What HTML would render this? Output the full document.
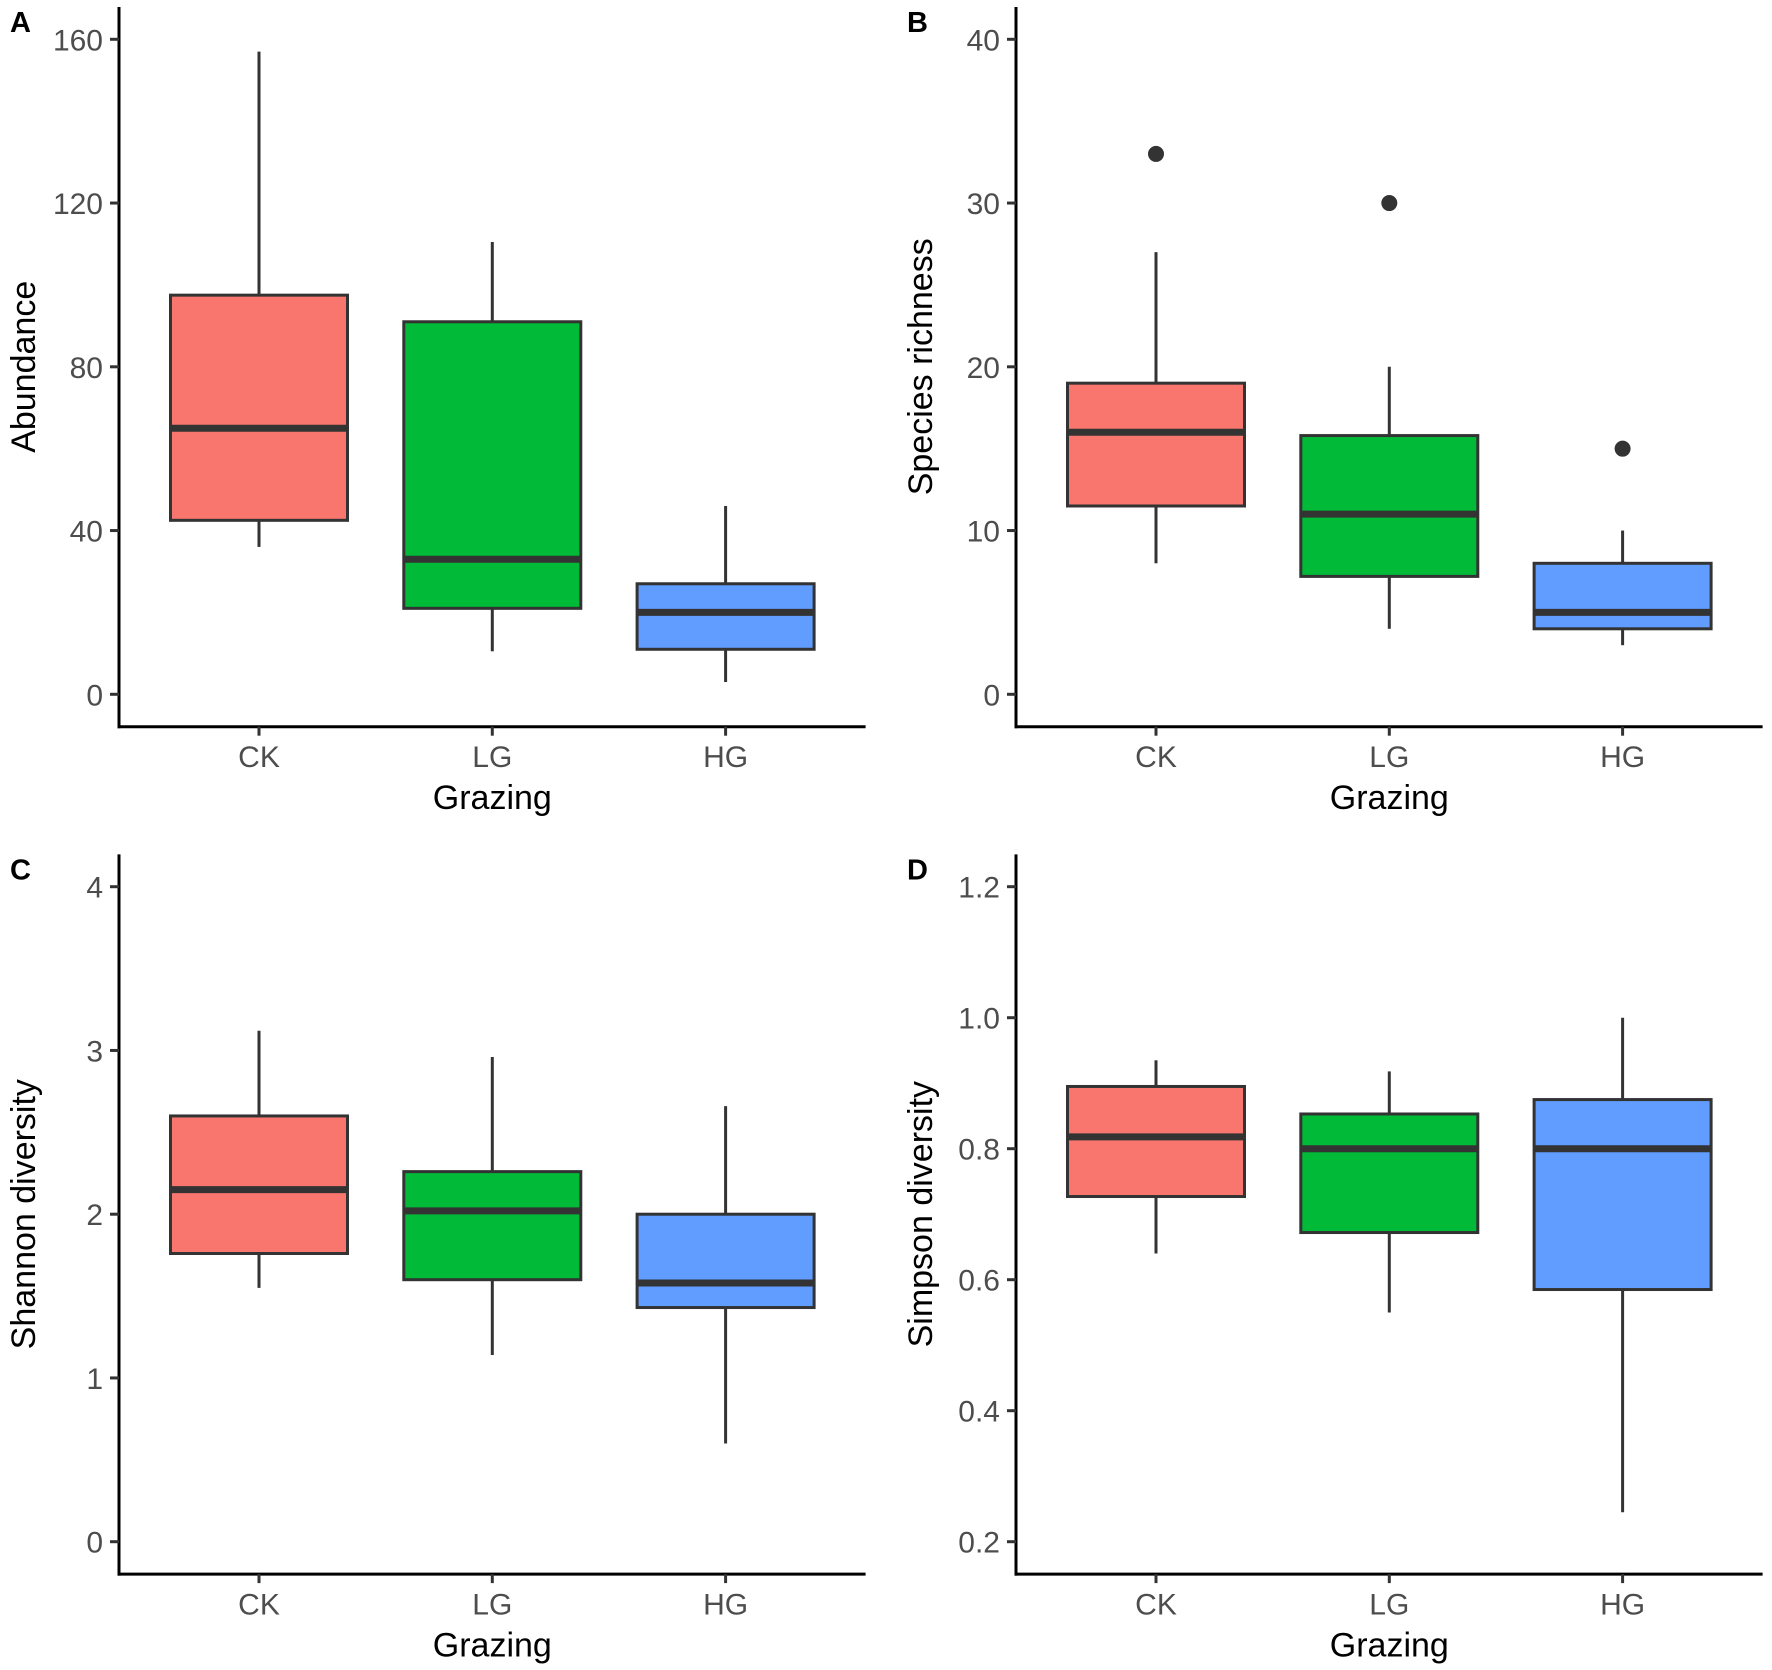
<!DOCTYPE html>
<html><head><meta charset="utf-8"><style>
html,body{margin:0;padding:0;background:#fff;}
svg{display:block;font-family:"Liberation Sans",Arial,sans-serif;}
</style></head>
<body>
<svg id="chart" width="1772" height="1670" viewBox="0 0 1772 1670" xmlns="http://www.w3.org/2000/svg"></svg>
<script>
const categories = ["CK","LG","HG"];
const fills = ["#F8766D","#00BA38","#619CFF"];
// Panel A: Abundance
const aLow = [36, 10.5, 3];
const aQ1 = [42.5, 21, 11];
const aMed = [65, 33, 20];
const aQ3 = [97.5, 91, 27];
const aHigh = [157, 110.5, 46];
const aOut = [[],[],[]];
const aTicks = [0,40,80,120,160];
// Panel B: Species richness
const bLow = [8, 4, 3];
const bQ1 = [11.5, 7.2, 4];
const bMed = [16, 11, 5];
const bQ3 = [19, 15.8, 8];
const bHigh = [27, 20, 10];
const bOut = [[33],[30],[15]];
const bTicks = [0,10,20,30,40];
// Panel C: Shannon diversity
const cLow = [1.55, 1.14, 0.6];
const cQ1 = [1.76, 1.6, 1.43];
const cMed = [2.15, 2.02, 1.58];
const cQ3 = [2.6, 2.26, 2.0];
const cHigh = [3.12, 2.96, 2.66];
const cOut = [[],[],[]];
const cTicks = [0,1,2,3,4];
// Panel D: Simpson diversity
const dLow = [0.64, 0.55, 0.245];
const dQ1 = [0.727, 0.672, 0.585];
const dMed = [0.818, 0.8, 0.8];
const dQ3 = [0.895, 0.853, 0.875];
const dHigh = [0.935, 0.918, 1.0];
const dOut = [[],[],[]];
const dTicks = [0.2,0.4,0.6,0.8,1.0,1.2];

const svg = document.getElementById('chart');
const NS = 'http://www.w3.org/2000/svg';
function mk(tag, attrs, parent){
  const e = document.createElementNS(NS, tag);
  for (const k in attrs) e.setAttribute(k, attrs[k]);
  parent.appendChild(e);
  return e;
}

const panels = [
  {letter:"A", title:"Abundance", dx:0, dy:0, min:0, max:160, ticks:aTicks, lbl:v=>String(v), low:aLow,q1:aQ1,med:aMed,q3:aQ3,high:aHigh,out:aOut},
  {letter:"B", title:"Species richness", dx:897, dy:0, min:0, max:40, ticks:bTicks, lbl:v=>String(v), low:bLow,q1:bQ1,med:bMed,q3:bQ3,high:bHigh,out:bOut},
  {letter:"C", title:"Shannon diversity", dx:0, dy:847.4, min:0, max:4, ticks:cTicks, lbl:v=>String(v), low:cLow,q1:cQ1,med:cMed,q3:cQ3,high:cHigh,out:cOut},
  {letter:"D", title:"Simpson diversity", dx:897, dy:847.4, min:0.2, max:1.2, ticks:dTicks, lbl:v=>v.toFixed(1), low:dLow,q1:dQ1,med:dMed,q3:dQ3,high:dHigh,out:dOut}
];

panels.forEach(p=>{
  const g = mk('g', {transform:`translate(${p.dx},${p.dy})`}, svg);
  
  
  const axX = 119, axTop = 7, axBot = 726.7, axRight = 865.6;
  const yTop = 39.3, yBot = 694.3;
  const y = v => yBot - (v - p.min) / (p.max - p.min) * (yBot - yTop);
  const xc = [259, 492.3, 725.6];
  const x = i => xc[i];
  const hw = 88.5;

  const lt = mk('text', {x:10, y:32, 'font-size':29, 'font-weight':'bold', fill:'#000'}, g);
  lt.textContent = p.letter;
  
  

  categories.forEach((c,i)=>{
    const bg = mk('g', {}, g);
    
    
    mk('line', {x1:x(i), x2:x(i), y1:y(p.high[i]), y2:y(p.q3[i]), stroke:'#333', 'stroke-width':3}, bg);
    mk('line', {x1:x(i), x2:x(i), y1:y(p.q1[i]), y2:y(p.low[i]), stroke:'#333', 'stroke-width':3}, bg);
    mk('rect', {x:x(i)-hw, y:y(p.q3[i]), width:2*hw, height:y(p.q1[i])-y(p.q3[i]), fill:fills[i], stroke:'#333', 'stroke-width':3}, bg);
    mk('line', {x1:x(i)-hw, x2:x(i)+hw, y1:y(p.med[i]), y2:y(p.med[i]), stroke:'#333', 'stroke-width':7}, bg);
    p.out[i].forEach(v=>{
      const o = mk('circle', {cx:x(i), cy:y(v), r:8, fill:'#333'}, bg);
      
      
    });
  });

  const ya = mk('line', {x1:axX, x2:axX, y1:axTop, y2:axBot+1.5, stroke:'#000', 'stroke-width':3}, g);
  
  
  const xa = mk('line', {x1:axX-1.5, x2:axRight, y1:axBot, y2:axBot, stroke:'#000', 'stroke-width':3}, g);
  
  

  p.ticks.forEach(t=>{
    mk('line', {x1:axX-9, x2:axX, y1:y(t), y2:y(t), stroke:'#333', 'stroke-width':3}, g);
    const tx = mk('text', {x:axX-16, y:y(t)+11, 'font-size':30, fill:'#4d4d4d', 'text-anchor':'end'}, g);
    tx.textContent = p.lbl(t);
    
    
  });
  categories.forEach((c,i)=>{
    mk('line', {x1:x(i), x2:x(i), y1:axBot, y2:axBot+9, stroke:'#333', 'stroke-width':3}, g);
    const tx = mk('text', {x:x(i), y:767, 'font-size':30, fill:'#4d4d4d', 'text-anchor':'middle'}, g);
    tx.textContent = c;
    
    
  });
  const xt = mk('text', {x:(axX+axRight)/2, y:809, 'font-size':34, fill:'#000', 'text-anchor':'middle'}, g);
  xt.textContent = 'Grazing';
  
  
  const yt = mk('text', {x:0, y:0, 'font-size':34, fill:'#000', 'text-anchor':'middle', transform:`translate(35,${(yTop+yBot)/2}) rotate(-90)`}, g);
  yt.textContent = p.title;
  
  
});
</script>
</body></html>
